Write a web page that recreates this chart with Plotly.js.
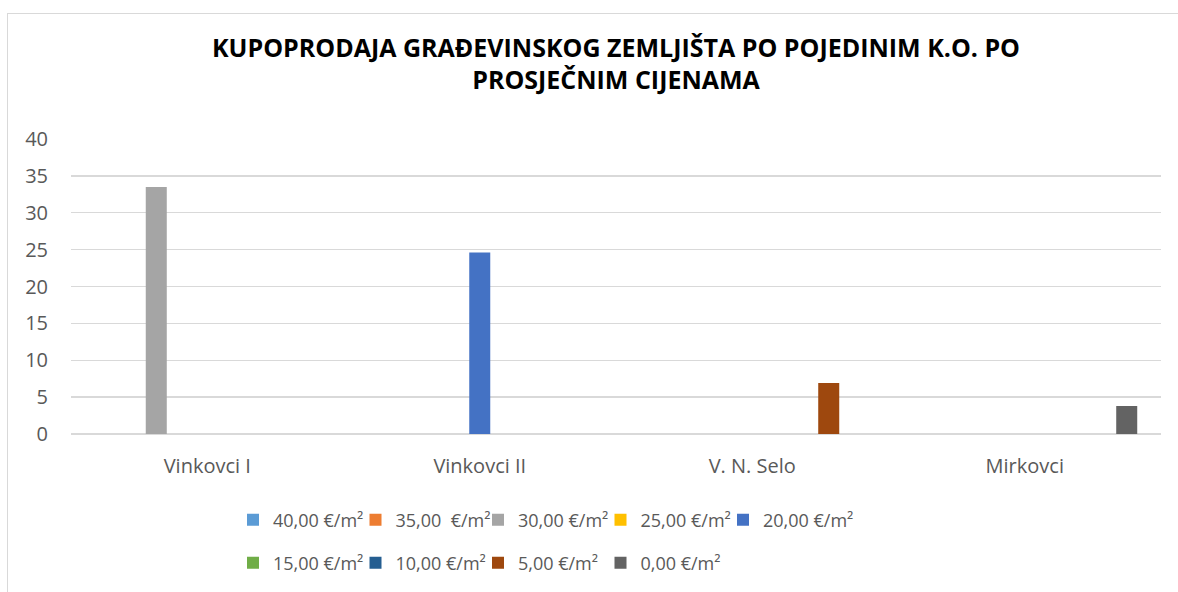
<!DOCTYPE html>
<html>
<head>
<meta charset="utf-8">
<script src="https://cdn.plot.ly/plotly-3.0.1.min.js"></script>
<style>
  html, body { margin:0; padding:0; background:#fff; overflow:hidden; }
  #wrap { position:relative; width:1178px; height:592px; }
  #chart { position:absolute; left:0; top:0; width:1178px; height:592px; }
  #frame { position:absolute; left:7px; top:13px; width:1300px; height:700px; border:1px solid #d9d9d9; pointer-events:none; }
</style>
</head>
<body>
<div id="wrap"><div id="chart"></div><div id="frame"></div></div>
<script>
const categories = ["Vinkovci I", "Vinkovci II", "V. N. Selo", "Mirkovci"];
const seriesNames = ["40,00 €/m²", "35,00\u00a0 €/m²", "30,00 €/m²", "25,00 €/m²", "20,00 €/m²",
                     "15,00 €/m²", "10,00 €/m²", "5,00 €/m²", "0,00 €/m²"];
const s40 = [null, null, null, null];
const s35 = [null, null, null, null];
const s30 = [33.5, null, null, null];
const s25 = [null, null, null, null];
const s20 = [null, 24.6, null, null];
const s15 = [null, null, null, null];
const s10 = [null, null, null, null];
const s5  = [null, null, 6.9, null];
const s0  = [null, null, null, 3.8];
const seriesValues = [s40, s35, s30, s25, s20, s15, s10, s5, s0];
const colors = ["#5B9BD5", "#ED7D31", "#A5A5A5", "#FFC000", "#4472C4", "#70AD47", "#255E91", "#9E480E", "#636363"];
const yTicks = [0, 5, 10, 15, 20, 25, 30, 35, 40];

const FONT = "Open Sans, sans-serif";
const legendIds = seriesNames.map((_, i) => i === 0 ? "legend" : "legend" + (i + 1));
const traces = seriesValues.map((vals, i) => ({
  type: "bar",
  name: seriesNames[i],
  x: categories,
  y: vals,
  marker: { color: colors[i] },
  legend: legendIds[i],
  hoverinfo: "x+y+name"
}));

const PW = 1090, PH = 296, PL = 71, PB = 435;

const layout = {
  width: 1178,
  height: 592,
  paper_bgcolor: "#ffffff",
  plot_bgcolor: "#ffffff",
  margin: { l: 71, r: 17, t: 139, b: 157 },
  barmode: "group",
  bargap: 0.158,
  bargroupgap: 0.176,
  title: {
    text: "KUPOPRODAJA GRAĐEVINSKOG ZEMLJIŠTA PO POJEDINIM K.O. PO<br>PROSJEČNIM CIJENAMA",
    font: { family: FONT, size: 25, color: "#000000", weight: "bold" },
    x: 0.5, xref: "paper", xanchor: "center",
    y: 1 - 56.5 / 592, yref: "container", yanchor: "middle"
  },
  xaxis: {
    type: "category",
    showgrid: false,
    showline: false,
    zeroline: false,
    ticks: "",
    ticklabelstandoff: 18,
    tickfont: { family: FONT, size: 20, color: "#595959" }
  },
  yaxis: {
    range: [0, 40],
    tickvals: yTicks,
    ticktext: yTicks.map(String),
    showgrid: true,
    gridcolor: "#d9d9d9",
    gridwidth: 1.3,
    zeroline: true,
    zerolinecolor: "#d9d9d9",
    zerolinewidth: 1.3,
    showline: false,
    ticks: "",
    ticklabelstandoff: 22,
    tickfont: { family: FONT, size: 20, color: "#595959" }
  },
  showlegend: true
};

// legend layout: 5 entries in the first row, 4 in the second
legendIds.forEach((id, i) => {
  const row = i < 5 ? 0 : 1;
  const col = i < 5 ? i : i - 5;
  layout[id] = {
    orientation: "h",
    xanchor: "left",
    yanchor: "middle",
    x: (233 + col * 122.5 - PL) / PW,
    y: (PB - (row === 0 ? 520 : 563)) / PH,
    font: { family: FONT, size: 18, color: "#595959" },
    bgcolor: "rgba(0,0,0,0)",
    itemclick: false
  };
});

Plotly.newPlot("chart", traces, layout, { displayModeBar: false, staticPlot: true });
</script>
</body>
</html>
